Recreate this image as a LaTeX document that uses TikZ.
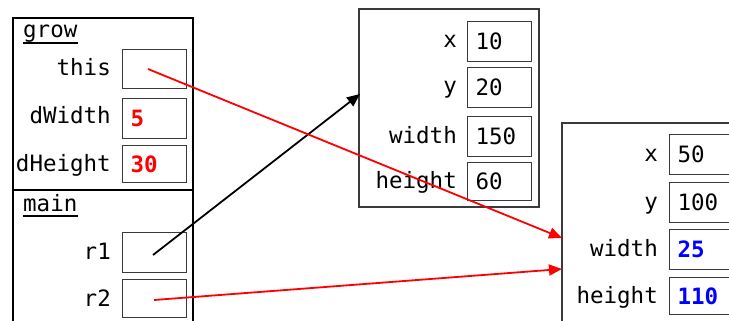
\documentclass[tikz,border=0pt]{standalone}
\usepackage{fontspec}
\setmonofont{DejaVu Sans Mono}
\usetikzlibrary{arrows.meta}
\definecolor{boxgray}{HTML}{3A3A3A}
\definecolor{vred}{HTML}{FF0000}
\definecolor{vblue}{HTML}{0000FF}
\begin{document}
\begin{tikzpicture}[x=1pt,y=-1pt,
  every node/.style={font=\ttfamily\fontsize{22.5}{26}\selectfont},
  lbl/.style={anchor=base east, inner sep=0pt},
  vbox/.style={draw=boxgray, line width=1.3pt, minimum width=64, text width=48, inner sep=8pt, align=left, anchor=north west},
  frameline/.style={draw=black, line width=2pt},
  objline/.style={draw=boxgray, line width=1.3pt},
  redval/.style={text=vred, font=\ttfamily\bfseries\fontsize{22.5}{26}\selectfont},
  blueval/.style={text=vblue, font=\ttfamily\bfseries\fontsize{22.5}{26}\selectfont},
  ptr/.style={line width=1.8pt, -{Triangle[length=13pt,width=11pt]}},
  ptrdot/.style={line width=1.8pt}
]
\clip (0,0) rectangle (729,321);
\fill[white] (0,0) rectangle (729,321);

% stack frames
\draw[frameline] (13,18) rectangle (193,190);
\draw[frameline] (13,340) -- (13,190) -- (193,190) -- (193,340);
\node[anchor=base west, inner sep=0pt] (growlbl) at (23,38) {grow};
\draw[line width=1.4pt] (23,43) -- (78,43);
\node[anchor=base west, inner sep=0pt] (mainlbl) at (23,211) {main};
\draw[line width=1.4pt] (23,216) -- (78,216);

% grow
\node[lbl] (thislbl) at (111,76) {this};
\node[vbox, minimum height=39] (this) at (122,49) {};
\node[lbl] (dwlbl) at (111,124) {dWidth};
\node[vbox, minimum height=40, redval] (dw) at (122,98) {5};
\node[lbl] (dhlbl) at (111,171) {dHeight};
\node[vbox, minimum height=37, redval] (dh) at (122,145) {30};

% main
\node[lbl] (r1lbl) at (111,259) {r1};
\node[vbox, minimum height=40] (r1) at (122,232) {};
\node[lbl] (r2lbl) at (111,306) {r2};
\node[vbox, minimum height=38] (r2) at (122,279) {};

% object 1
\draw[objline] (359,9) rectangle (539,207);
\node[lbl] (o1xl) at (457,48) {x};
\node[vbox, minimum height=40] (o1x) at (467,21) {10};
\node[lbl] (o1yl) at (457,94) {y};
\node[vbox, minimum height=40] (o1y) at (467,67) {20};
\node[lbl] (o1wl) at (457,143) {width};
\node[vbox, minimum height=40] (o1w) at (467,116) {150};
\node[lbl] (o1hl) at (457,188) {height};
\node[vbox, minimum height=38] (o1h) at (467,162) {60};

% object 2
\draw[objline, line width=1.8pt] (562,340) -- (562,123) -- (760,123);
\node[lbl] (o2xl) at (658,161) {x};
\node[vbox, minimum height=40] (o2x) at (669,134) {50};
\node[lbl] (o2yl) at (658,209) {y};
\node[vbox, minimum height=40] (o2y) at (669,182) {100};
\node[lbl] (o2wl) at (658,256) {width};
\node[vbox, minimum height=40, blueval] (o2w) at (669,229) {25};
\node[lbl] (o2hl) at (658,303) {height};
\node[vbox, minimum height=37, blueval] (o2h) at (669,277) {110};

% pointer targets
\coordinate (o1in) at (360,94);
\coordinate (o2in1) at (562,238);
\coordinate (o2in2) at (562,269);
\coordinate (thisp) at (148,69);
\coordinate (r1p) at (153,255);
\coordinate (r2p) at (154,300);

% pointers
\draw[ptr, draw=black, fill=black] (r1p) -- (o1in);
\draw[ptr, draw=vred, fill=vred] (thisp) -- (o2in1);
\draw[ptr, draw=vred, fill=vred] (r2p) -- (o2in2);
\end{tikzpicture}
\end{document}
